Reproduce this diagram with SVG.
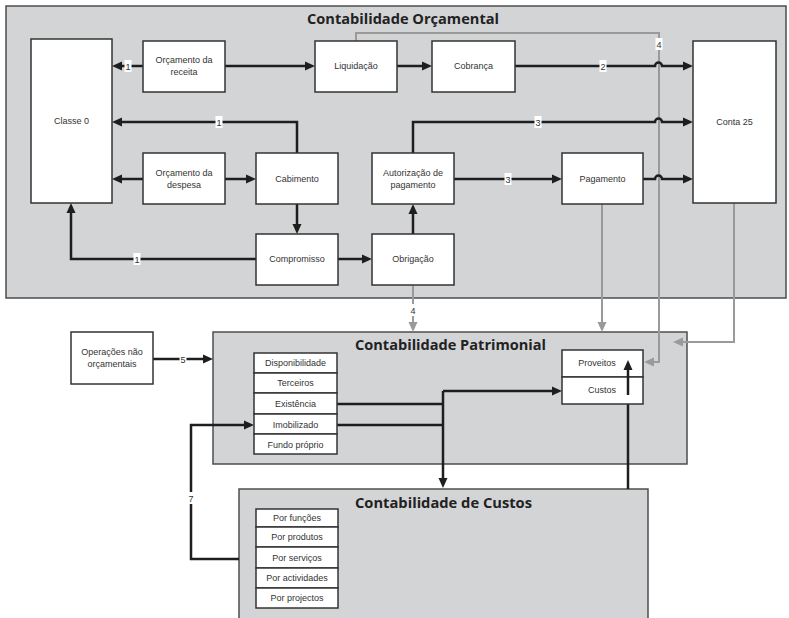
<svg xmlns="http://www.w3.org/2000/svg" width="789" height="618" viewBox="0 0 789 618">
<style>
.area{fill:#d3d4d6;stroke:#4d4d4d;stroke-width:1.5}
.box{fill:#fff;stroke:#333;stroke-width:1.5}
.t{font-family:"Liberation Sans",Arial,sans-serif;font-size:9px;fill:#333;text-anchor:middle}
.title{font-family:"Open Sans","Noto Sans",sans-serif;font-weight:bold;font-size:15px;fill:#222;text-anchor:middle}
.c{fill:none;stroke:#1e1e1e;stroke-width:2.5}
.g{fill:none;stroke:#9a9a9a;stroke-width:2}
.lb{fill:#fff}
.n{font-family:"Liberation Sans",Arial,sans-serif;font-size:9px;fill:#333;text-anchor:middle}
</style>
<defs>
<marker id="ab" markerUnits="userSpaceOnUse" markerWidth="11" markerHeight="10" refX="4" refY="5" orient="auto"><path d="M0,0.5 L10,5 L0,9.5 z" fill="#1e1e1e"/></marker>
<marker id="ag" markerUnits="userSpaceOnUse" markerWidth="11" markerHeight="10" refX="4" refY="5" orient="auto"><path d="M0,0.5 L10,5 L0,9.5 z" fill="#9a9a9a"/></marker>
</defs>
<rect width="789" height="618" fill="#fff"/>
<g id="contabilidade-orcamental">
<rect class="area" x="6" y="6" width="780" height="292"/>
<text class="title" x="403" y="24" textLength="192" lengthAdjust="spacingAndGlyphs">Contabilidade Orçamental</text>
</g>
<g id="contabilidade-patrimonial">
<rect class="area" x="213" y="332" width="474" height="132"/>
<text class="title" x="450.5" y="350" textLength="191" lengthAdjust="spacingAndGlyphs">Contabilidade Patrimonial</text>
</g>
<g id="contabilidade-custos">
<rect class="area" x="239" y="489" width="409" height="135"/>
<text class="title" x="443.5" y="508" textLength="177" lengthAdjust="spacingAndGlyphs">Contabilidade de Custos</text>
</g>
<g id="connectors">
<path class="g" d="M356,41 V33 H659 V362 H650" marker-end="url(#ag)"/>
<path class="g" d="M602,204 V326" marker-end="url(#ag)"/>
<path class="g" d="M734,203 V342 H679" marker-end="url(#ag)"/>
<path class="g" d="M413,285 V326" marker-end="url(#ag)"/>
<path class="c" d="M143,66 H118" marker-end="url(#ab)"/>
<path class="c" d="M225,66 H309" marker-end="url(#ab)"/>
<path class="c" d="M397,66 H426" marker-end="url(#ab)"/>
<path class="c" d="M515,66 H655 a3.5,3.5 0 0 1 7,0 H687" marker-end="url(#ab)"/>
<path class="c" d="M297,153 V122 H118" marker-end="url(#ab)"/>
<path class="c" d="M413,153 V122 H655 a3.5,3.5 0 0 1 7,0 H687" marker-end="url(#ab)"/>
<path class="c" d="M143,179 H118" marker-end="url(#ab)"/>
<path class="c" d="M225,179 H250" marker-end="url(#ab)"/>
<path class="c" d="M454,179 H556" marker-end="url(#ab)"/>
<path class="c" d="M643,179 H655 a3.5,3.5 0 0 1 7,0 H687" marker-end="url(#ab)"/>
<path class="c" d="M297,204 V228" marker-end="url(#ab)"/>
<path class="c" d="M338,259 H366" marker-end="url(#ab)"/>
<path class="c" d="M413,234 V210" marker-end="url(#ab)"/>
<path class="c" d="M256,259 H71 V209" marker-end="url(#ab)"/>
<path class="c" d="M153,359 H207" marker-end="url(#ab)"/>
<path class="c" d="M337,404 H443 M337,425 H443"/>
<path class="c" d="M443,391 V482" marker-end="url(#ab)"/>
<path class="c" d="M443,391 H556" marker-end="url(#ab)"/>
<path class="c" d="M628,489 V366" marker-end="url(#ab)"/>
<path class="c" d="M239,559 H191 V425 H248" marker-end="url(#ab)"/>
<rect class="lb" x="124.5" y="60" width="7" height="12"/><text class="n" x="128" y="69.5">1</text>
<rect class="lb" x="215.5" y="116" width="7" height="12"/><text class="n" x="219" y="125.5">1</text>
<rect class="lb" x="133.5" y="253" width="7" height="12"/><text class="n" x="137" y="262.5">1</text>
<rect class="lb" x="599.5" y="60" width="7" height="12"/><text class="n" x="603" y="69.5">2</text>
<rect class="lb" x="534.5" y="116" width="7" height="12"/><text class="n" x="538" y="125.5">3</text>
<rect class="lb" x="504.5" y="173" width="7" height="12"/><text class="n" x="508" y="182.5">3</text>
<rect class="lb" x="655.5" y="38" width="7" height="12"/><text class="n" x="659" y="47.5">4</text>
<rect class="lb" x="409.5" y="304" width="7" height="12"/><text class="n" x="413" y="313.5">4</text>
<rect class="lb" x="179.5" y="353" width="7" height="12"/><text class="n" x="183" y="362.5">5</text>
<rect class="lb" x="187.5" y="492" width="7" height="12"/><text class="n" x="191" y="501.5">7</text>
</g>
<g id="classe-0"><rect class="box" x="31" y="39" width="81" height="164"/><text class="t" x="71.5" y="124">Classe 0</text></g>
<g id="orcamento-receita"><rect class="box" x="143" y="41" width="82" height="51"/><text class="t" x="184" y="63">Orçamento da</text><text class="t" x="184" y="75">receita</text></g>
<g id="liquidacao"><rect class="box" x="315" y="41" width="82" height="51"/><text class="t" x="356" y="69">Liquidação</text></g>
<g id="cobranca"><rect class="box" x="432" y="41" width="83" height="51"/><text class="t" x="473.5" y="69">Cobrança</text></g>
<g id="conta-25"><rect class="box" x="693" y="41" width="83" height="162"/><text class="t" x="734.5" y="125">Conta 25</text></g>
<g id="orcamento-despesa"><rect class="box" x="143" y="153" width="82" height="51"/><text class="t" x="184" y="176">Orçamento da</text><text class="t" x="184" y="188">despesa</text></g>
<g id="cabimento"><rect class="box" x="256" y="153" width="82" height="51"/><text class="t" x="297" y="182">Cabimento</text></g>
<g id="autorizacao-pagamento"><rect class="box" x="372" y="153" width="82" height="51"/><text class="t" x="413" y="176">Autorização de</text><text class="t" x="413" y="188">pagamento</text></g>
<g id="pagamento"><rect class="box" x="562" y="153" width="81" height="51"/><text class="t" x="602.5" y="182">Pagamento</text></g>
<g id="compromisso"><rect class="box" x="256" y="234" width="82" height="51"/><text class="t" x="297" y="262">Compromisso</text></g>
<g id="obrigacao"><rect class="box" x="372" y="234" width="82" height="51"/><text class="t" x="413" y="262">Obrigação</text></g>
<g id="operacoes-nao-orcamentais"><rect class="box" x="71" y="332" width="82" height="52"/><text class="t" x="112" y="355">Operações não</text><text class="t" x="112" y="367">orçamentais</text></g>
<g id="lista-patrimonial">
<rect class="box" x="254" y="353" width="83" height="20"/><text class="t" x="295.5" y="366">Disponibilidade</text>
<rect class="box" x="254" y="373" width="83" height="20"/><text class="t" x="295.5" y="386">Terceiros</text>
<rect class="box" x="254" y="393" width="83" height="21"/><text class="t" x="295.5" y="407">Existência</text>
<rect class="box" x="254" y="414" width="83" height="20"/><text class="t" x="295.5" y="428">Imobilizado</text>
<rect class="box" x="254" y="434" width="83" height="20"/><text class="t" x="295.5" y="448">Fundo próprio</text>
</g>
<g id="proveitos-custos">
<rect class="box" x="562" y="350" width="81" height="27"/><text class="t" x="597" y="366">Proveitos</text>
<rect class="box" x="562" y="377" width="81" height="27"/><text class="t" x="602" y="393">Custos</text>
</g>
<path class="c" d="M628,395 V366" marker-end="url(#ab)"/>
<g id="lista-custos">
<rect class="box" x="256" y="509" width="82" height="18"/><text class="t" x="297" y="521">Por funções</text>
<rect class="box" x="256" y="527" width="82" height="20"/><text class="t" x="297" y="540">Por produtos</text>
<rect class="box" x="256" y="547" width="82" height="21"/><text class="t" x="297" y="561">Por serviços</text>
<rect class="box" x="256" y="568" width="82" height="20"/><text class="t" x="297" y="581">Por actividades</text>
<rect class="box" x="256" y="588" width="82" height="20"/><text class="t" x="297" y="601">Por projectos</text>
</g>
</svg>
